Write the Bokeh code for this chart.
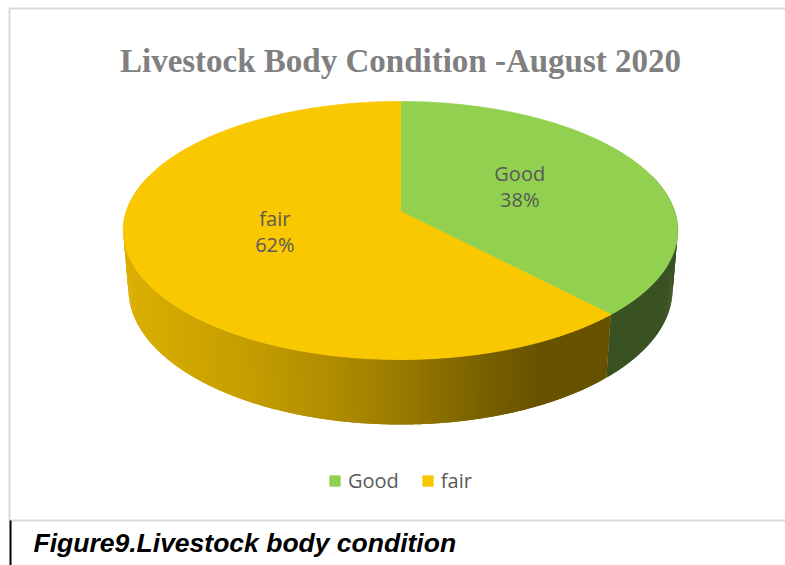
import numpy as np
from bokeh.plotting import figure
from bokeh.models import Range1d, ColumnDataSource, Legend, LegendItem
from bokeh.embed import file_html
from bokeh.resources import INLINE
from bokeh.core.properties import value

# ---------------- data ----------------
categories = ["Good", "fair"]
percents = [38, 62]
top_colors = ["#92d050", "#fac800"]
side_color_good = "#3a5223"

title_text = "Livestock Body Condition -August 2020"
caption_text = "Figure9.Livestock body condition"

# side shading stops for the "fair" wall (screen x -> red channel)
shade_x = [130, 250, 330, 400, 480, 540]
shade_r = [218, 196, 176, 154, 122, 103]

# ---------------- layout ----------------
W, H = 785, 565
CX = 400.0
TOP_Y, BOT_Y = 101.0, 359.0
HALF_W = 277.0
FRONT_DEPTH = 65.0
D = 6.0  # camera distance (in radius units)

p = figure(width=W, height=H, x_range=Range1d(0, W), y_range=Range1d(H, 0),
           x_axis_type=None, y_axis_type=None, toolbar_location=None,
           output_backend="svg", min_border=0)
p.outline_line_color = None
p.background_fill_color = "white"
p.border_fill_color = "white"


def proj_raw(X, Z, Yh, e):
    dist = Z * np.cos(e) + Yh * np.sin(e)
    pp = D / (D - dist)
    return pp * X, pp * (Z * np.sin(e) - Yh * np.cos(e))


ring = np.linspace(0, 2 * np.pi, 1441)
best = None
for edeg in np.linspace(10, 50, 801):
    e = np.radians(edeg)
    xr, yr = proj_raw(np.cos(ring), np.sin(ring), 0.0, e)
    ratio = (xr.max() - xr.min()) / (yr.max() - yr.min())
    err = abs(ratio - 2 * HALF_W / (BOT_Y - TOP_Y))
    if best is None or err < best[0]:
        best = (err, e)
E = best[1]
xr, yr = proj_raw(np.cos(ring), np.sin(ring), 0.0, E)
S = (BOT_Y - TOP_Y) / (yr.max() - yr.min())
CY = TOP_Y - S * yr.min()

# thickness so that front depth matches
best = None
for th in np.linspace(0.05, 0.6, 1101):
    _, y0 = proj_raw(0.0, 1.0, 0.0, E)
    _, y1 = proj_raw(0.0, 1.0, -th, E)
    err = abs(S * (y1 - y0) - FRONT_DEPTH)
    if best is None or err < best[0]:
        best = (err, th)
TH = best[1]


def proj(X, Z, Yh):
    a, b = proj_raw(X, Z, Yh, E)
    return CX + S * a, CY + S * b


# slice angles: start at 12 o'clock (back), clockwise on screen
fr = np.array(percents, dtype=float) / sum(percents)
starts = -np.pi / 2 + 2 * np.pi * np.concatenate([[0], np.cumsum(fr)[:-1]])
ends = starts + 2 * np.pi * fr


def slice_index(phi):
    ph = (phi + np.pi / 2) % (2 * np.pi) - np.pi / 2
    for i in range(len(categories)):
        if starts[i] <= ph <= ends[i]:
            return i
    return len(categories) - 1


# ---------------- side walls ----------------
A0, A1 = -0.3, np.pi + 0.3
cuts = [A0] + [a for a in ends if A0 < a < A1] + [A1]
side_xs, side_ys, side_cols = [], [], []
for c0, c1 in zip(cuts[:-1], cuts[1:]):
    idx = slice_index(0.5 * (c0 + c1))
    n = max(4, int((c1 - c0) / 0.01))
    angs = np.linspace(c0, c1, n + 1)
    for k in range(n):
        a = angs[k]
        b = angs[min(k + 2, n)]  # overlap with the next strip to hide seams
        tt = np.linspace(a, b, 4)
        tx, ty = proj(np.cos(tt), np.sin(tt), 0.0)
        bx, by = proj(np.cos(tt), np.sin(tt), -TH)
        if idx == 0:
            col = side_color_good
        else:
            xm = float(np.mean(proj(np.cos(angs[k:k + 2]), np.sin(angs[k:k + 2]), 0.0)[0]))
            r = float(np.interp(xm, shade_x, shade_r))
            col = "#%02x%02x%02x" % (int(round(r)), int(round(r * 0.8)), 0)
        side_xs.append(list(tx) + list(bx[::-1]))
        side_ys.append(list(ty) + list(by[::-1]))
        side_cols.append(col)
side_src = ColumnDataSource(dict(xs=side_xs, ys=side_ys, c=side_cols))
p.patches("xs", "ys", fill_color="c", line_color=None, source=side_src)

# ---------------- top faces ----------------
top_xs, top_ys = [], []
for s, e_ in zip(starts, ends):
    t = np.linspace(s, e_, 300)
    x, y = proj(np.cos(t), np.sin(t), 0.0)
    top_xs.append([CX] + list(x))
    top_ys.append([CY] + list(y))
top_src = ColumnDataSource(dict(xs=top_xs, ys=top_ys, c=top_colors, label=categories))
top_r = p.patches("xs", "ys", fill_color="c", line_color="c", line_width=0.8, source=top_src)

# ---------------- data labels ----------------
LABEL_R = 0.48
mids = 0.5 * (starts + ends)
lx, ly = proj(LABEL_R * np.cos(mids), LABEL_R * np.sin(mids), 0.0)
lab_src = ColumnDataSource(dict(x=lx, y1=ly - 16, y2=ly + 10, name=categories,
                                pct=["%d%%" % v for v in percents]))
for col in ("name", "pct"):
    p.text(x="x", y="y1" if col == "name" else "y2", text=col, source=lab_src,
           text_font=value("Open Sans"), text_font_size="20px", text_color="#595959",
           text_align="center", text_baseline="alphabetic")

# ---------------- title, frame, caption ----------------
p.text(x=[CX], y=[60], text=[title_text], text_font=value("Liberation Serif"),
       text_font_style="bold", text_font_size="33px", text_color="#808080",
       text_align="center", text_baseline="alphabetic")
p.line(x=[W + 10, 9, 9, W + 10], y=[8, 8, 520, 520], line_color="#d9d9d9", line_width=2)
p.line(x=[10, 10], y=[520, H], line_color="black", line_width=2)
p.text(x=[33], y=[542], text=[caption_text], text_font=value("Liberation Sans"),
       text_font_style="bold italic", text_font_size="26.5px", text_color="black",
       text_align="left", text_baseline="alphabetic")

# ---------------- legend ----------------
legend = Legend(items=[LegendItem(label=c, renderers=[top_r], index=i) for i, c in enumerate(categories)],
                location=(328, H - 494), orientation="horizontal",
                glyph_width=13, glyph_height=13, label_standoff=7, spacing=22,
                padding=0, margin=0, border_line_color=None, background_fill_alpha=0,
                label_text_font="Open Sans", label_text_font_size="20px",
                label_text_color="#595959", label_height=20)
p.add_layout(legend)

open("out.html", "w").write(file_html(p, INLINE))
